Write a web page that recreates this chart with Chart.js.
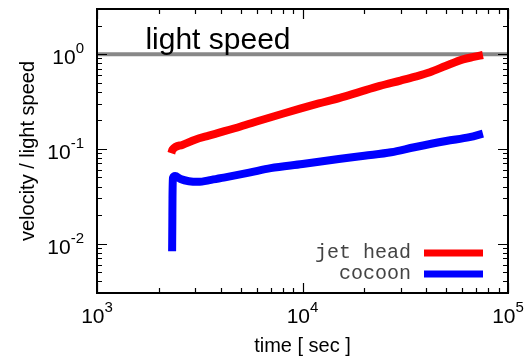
<!DOCTYPE html>
<html>
<head>
<meta charset="utf-8">
<script src="https://cdn.jsdelivr.net/npm/chart.js@4/dist/chart.umd.min.js"></script>
<style>
  html, body { margin: 0; padding: 0; background: #fff; }
  #wrap { width: 529px; height: 360px; }
</style>
</head>
<body>
<div id="wrap"><canvas id="myChart"></canvas></div>
<script>
'use strict'

// jet head (red)
const jetTime = [2300, 2330, 2600, 3000, 3500, 3970, 5000, 6210, 8000, 9730, 12000, 15200, 19000, 23800, 30000, 35000, 41700, 50000, 60400, 68000, 75500];
const jetHead = [0.090, 0.098, 0.110, 0.125, 0.138, 0.149, 0.172, 0.199, 0.235, 0.266, 0.302, 0.346, 0.400, 0.462, 0.526, 0.575, 0.645, 0.755, 0.880, 0.935, 0.98];

// cocoon (blue)
const cocoonTime = [2320, 2325, 2330, 2340, 2400, 2550, 2800, 3100, 3600, 4200, 5500, 7000, 10000, 15000, 20000, 27000, 35000, 50000, 65000, 75500];
const cocoon = [0.0083, 0.015, 0.03, 0.049, 0.0515, 0.048, 0.0455, 0.0448, 0.047, 0.050, 0.056, 0.0625, 0.069, 0.078, 0.0845, 0.092, 0.104, 0.121, 0.133, 0.145];

// light speed reference line
const lightTime = [1000, 100000];
const lightSpeed = [1, 1];

// axis ticks
const xMajor = [1e3, 1e4, 1e5];
const xExp = ['3', '4', '5'];
const yMajor = [1e-2, 1e-1, 1e0];
const yExp = ['-2', '-1', '0'];

const seriesNames = ['jet head', 'cocoon'];

function toPoints(xs, ys) {
  return xs.map((x, i) => ({ x: x, y: ys[i] }));
}

function minorTicks(lo, hi) {
  let out = [];
  for (let d = Math.floor(Math.log10(lo)); d <= Math.ceil(Math.log10(hi)); d++) {
    for (let k = 2; k <= 9; k++) {
      let v = k * Math.pow(10, d);
      if (v > lo * 1.0001 && v < hi * 0.9999) out.push(v);
    }
  }
  return out;
}

const frame = {
  id: 'frame',
  afterDatasetsDraw(chart) {
    const ctx = chart.ctx;
    const a = chart.chartArea;
    const xs = chart.scales.x, ys = chart.scales.y;
    ctx.save();

    // light speed text
    ctx.fillStyle = '#000';
    ctx.font = '30px "Liberation Sans", Arial, sans-serif';
    ctx.textAlign = 'left';
    ctx.textBaseline = 'alphabetic';
    ctx.fillText('light speed', xs.getPixelForValue(1720), ys.getPixelForValue(1) - 5);

    // frame
    ctx.strokeStyle = '#000';
    ctx.lineWidth = 2;
    ctx.strokeRect(a.left, a.top, a.right - a.left, a.bottom - a.top);

    // ticks, pointing inward on all sides
    ctx.lineWidth = 1.2;
    ctx.beginPath();
    const tickX = (v, len) => {
      let p = Math.round(xs.getPixelForValue(v)) + 0.5;
      ctx.moveTo(p, a.bottom); ctx.lineTo(p, a.bottom - len);
      ctx.moveTo(p, a.top); ctx.lineTo(p, a.top + len);
    };
    const tickY = (v, len) => {
      let p = Math.round(ys.getPixelForValue(v)) + 0.5;
      ctx.moveTo(a.left, p); ctx.lineTo(a.left + len, p);
      ctx.moveTo(a.right, p); ctx.lineTo(a.right - len, p);
    };
    xMajor.forEach(v => tickX(v, 10));
    minorTicks(xs.min, xs.max).forEach(v => tickX(v, 5));
    yMajor.forEach(v => tickY(v, 10));
    minorTicks(ys.min, ys.max).forEach(v => tickY(v, 5));
    ctx.stroke();

    // tick labels with superscript exponents
    const base = '21px "Liberation Sans", Arial, sans-serif';
    const sup = '15px "Liberation Sans", Arial, sans-serif';
    ctx.textBaseline = 'alphabetic';
    xMajor.forEach((v, i) => {
      ctx.font = base;
      let w1 = ctx.measureText('10').width;
      ctx.font = sup;
      let w2 = ctx.measureText(xExp[i]).width;
      let x0 = xs.getPixelForValue(v) - (w1 + w2) / 2;
      ctx.font = base;
      ctx.textAlign = 'left';
      ctx.fillText('10', x0, a.bottom + 30);
      ctx.font = sup;
      ctx.fillText(xExp[i], x0 + w1, a.bottom + 19);
    });
    yMajor.forEach((v, i) => {
      let p = ys.getPixelForValue(v);
      ctx.font = sup;
      let w2 = ctx.measureText(yExp[i]).width;
      ctx.textAlign = 'left';
      ctx.fillText(yExp[i], 84 - w2, p - 1);
      ctx.font = base;
      ctx.textAlign = 'right';
      ctx.fillText('10', 84 - w2, p + 10);
    });

    // axis titles
    ctx.font = '20px "Liberation Sans", Arial, sans-serif';
    ctx.textAlign = 'center';
    ctx.fillText('time [ sec ]', (a.left + a.right) / 2, 352);
    ctx.save();
    ctx.translate(28, (a.top + a.bottom) / 2);
    ctx.rotate(-Math.PI / 2);
    ctx.textBaseline = 'middle';
    ctx.fillText('velocity / light speed', 0, 0);
    ctx.restore();

    // legend
    const colors = ['#ff0000', '#0000ff'];
    const rows = [253, 274];
    ctx.font = '20px "Liberation Mono", "Courier New", monospace';
    ctx.textAlign = 'right';
    ctx.textBaseline = 'middle';
    seriesNames.forEach((name, i) => {
      ctx.fillStyle = '#444';
      ctx.fillText(name, 411, rows[i]);
      ctx.strokeStyle = colors[i];
      ctx.lineWidth = 7;
      ctx.beginPath();
      ctx.moveTo(424, rows[i]);
      ctx.lineTo(483, rows[i]);
      ctx.stroke();
    });

    ctx.restore();
  }
};

const lineStyle = {
  fill: false,
  cubicInterpolationMode: 'monotone',
  pointRadius: 0,
  borderWidth: 8,
  borderJoinStyle: 'round'
};

new Chart(document.getElementById('myChart'), {
  type: 'line',
  data: {
    datasets: [
      Object.assign({ label: seriesNames[0], data: toPoints(jetTime, jetHead), borderColor: '#ff0000', order: 1 }, lineStyle),
      Object.assign({ label: seriesNames[1], data: toPoints(cocoonTime, cocoon), borderColor: '#0000ff', order: 2 }, lineStyle),
      { label: 'light speed', data: toPoints(lightTime, lightSpeed), borderColor: '#888888', borderWidth: 4, pointRadius: 0, order: 3 }
    ]
  },
  options: {
    responsive: true,
    maintainAspectRatio: false,
    animation: false,
    layout: { padding: { left: 97, right: 21, top: 9, bottom: 67 } },
    plugins: { legend: { display: false }, tooltip: { enabled: false } },
    scales: {
      x: { type: 'logarithmic', min: 1000, max: 100000, display: false },
      y: { type: 'logarithmic', min: 0.003, max: 3, display: false }
    }
  },
  plugins: [frame]
});
</script>
</body>
</html>
